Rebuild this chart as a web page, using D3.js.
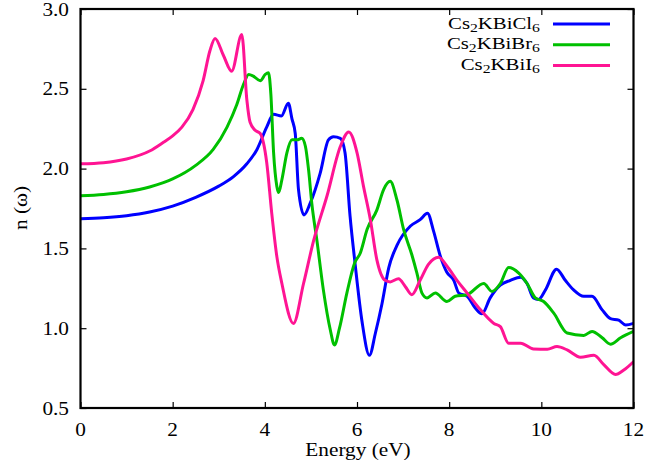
<!DOCTYPE html>
<html lang="en">
<head>
  <meta charset="UTF-8">
  <title>Refractive index</title>
  <script src="https://d3js.org/d3.v7.min.js"></script>
  <style>
    body { margin: 0; background: white; }
    svg { display: block; }
    text { font-family: "Liberation Serif", "Times New Roman", serif; fill: black; }
  </style>
</head>
<body>
<svg id="chart" width="648" height="469"></svg>
<script>
  // energy (eV) and n(omega)
  const clE = [0, 0.5, 1.0, 1.5, 2.0, 2.5, 3.0, 3.32, 3.61, 3.83, 4.04, 4.19, 4.36, 4.51, 4.59, 4.66, 4.73, 4.85, 4.98, 5.2, 5.38, 5.49, 5.64, 5.74, 5.85, 5.96, 6.11, 6.27, 6.4, 6.54, 6.69, 6.87, 7.16, 7.37, 7.53, 7.66, 7.81, 7.95, 8.1, 8.21, 8.39, 8.57, 8.71, 8.89, 9.11, 9.33, 9.55, 9.69, 9.83, 9.94, 10.09, 10.33, 10.52, 10.7, 10.92, 11.1, 11.32, 11.5, 11.68, 11.83, 12];
  const clN = [1.685, 1.692, 1.705, 1.728, 1.765, 1.82, 1.89, 1.95, 2.03, 2.12, 2.26, 2.34, 2.33, 2.41, 2.31, 2.22, 1.87, 1.71, 1.78, 1.97, 2.18, 2.20, 2.19, 2.10, 1.70, 1.40, 1.04, 0.83, 0.97, 1.15, 1.38, 1.52, 1.64, 1.68, 1.72, 1.61, 1.45, 1.35, 1.30, 1.22, 1.20, 1.125, 1.09, 1.19, 1.27, 1.30, 1.32, 1.28, 1.19, 1.18, 1.24, 1.37, 1.30, 1.24, 1.20, 1.20, 1.115, 1.06, 1.05, 1.02, 1.03];

  const brE = [0, 0.5, 1.0, 1.5, 2.0, 2.5, 2.88, 3.18, 3.39, 3.54, 3.65, 3.75, 3.9, 4.01, 4.08, 4.13, 4.19, 4.26, 4.3, 4.37, 4.48, 4.59, 4.7, 4.8, 4.88, 4.95, 5.02, 5.13, 5.27, 5.42, 5.51, 5.62, 5.78, 5.95, 6.07, 6.22, 6.43, 6.58, 6.72, 6.87, 7.01, 7.19, 7.3, 7.41, 7.52, 7.7, 7.95, 8.13, 8.39, 8.75, 8.93, 9.11, 9.29, 9.51, 9.69, 9.87, 10.05, 10.27, 10.56, 10.92, 11.1, 11.32, 11.5, 11.72, 12];
  const brN = [1.83, 1.838, 1.855, 1.885, 1.935, 2.02, 2.12, 2.26, 2.40, 2.53, 2.59, 2.58, 2.55, 2.59, 2.60, 2.47, 2.10, 1.89, 1.85, 1.93, 2.10, 2.18, 2.18, 2.19, 2.14, 1.99, 1.78, 1.55, 1.24, 0.99, 0.895, 1.00, 1.22, 1.41, 1.47, 1.62, 1.74, 1.87, 1.92, 1.80, 1.62, 1.46, 1.345, 1.22, 1.19, 1.22, 1.167, 1.20, 1.21, 1.28, 1.23, 1.28, 1.38, 1.345, 1.28, 1.19, 1.167, 1.094, 0.97, 0.955, 0.98, 0.94, 0.90, 0.94, 0.98];

  const iE = [0, 0.5, 1.0, 1.5, 1.8, 2.0, 2.2, 2.44, 2.66, 2.81, 2.92, 3.1, 3.28, 3.5, 3.61, 3.68, 3.79, 3.9, 4.04, 4.15, 4.26, 4.37, 4.62, 4.84, 5.06, 5.35, 5.64, 5.82, 6.0, 6.14, 6.29, 6.43, 6.61, 6.72, 6.9, 7.05, 7.19, 7.37, 7.55, 7.77, 7.95, 8.17, 8.39, 8.68, 8.97, 9.11, 9.29, 9.55, 9.83, 10.13, 10.34, 10.56, 10.85, 11.14, 11.36, 11.61, 11.79, 12];
  const iN = [2.03, 2.037, 2.06, 2.11, 2.165, 2.205, 2.26, 2.37, 2.55, 2.74, 2.815, 2.71, 2.61, 2.84, 2.43, 2.29, 2.24, 2.22, 2.04, 1.72, 1.45, 1.28, 1.03, 1.28, 1.55, 1.83, 2.14, 2.23, 2.10, 1.89, 1.68, 1.43, 1.30, 1.29, 1.31, 1.26, 1.21, 1.30, 1.40, 1.445, 1.39, 1.30, 1.22, 1.115, 1.03, 1.01, 0.906, 0.906, 0.87, 0.868, 0.885, 0.864, 0.818, 0.83, 0.77, 0.71, 0.738, 0.79];

  const xTicks = [0, 2, 4, 6, 8, 10, 12];
  const yTicks = [0.5, 1.0, 1.5, 2.0, 2.5, 3.0];

  const series = [
    { name: ["Cs", "2", "KBiCl", "6"], e: clE, n: clN, color: "#0000ff" },
    { name: ["Cs", "2", "KBiBr", "6"], e: brE, n: brN, color: "#00c000" },
    { name: ["Cs", "2", "KBiI", "6"], e: iE, n: iN, color: "#ff1493" }
  ];

  const svg = d3.select("#chart");
  const pLeft = 80.5, pRight = 633.5, pTop = 9, pBottom = 408;

  const x = d3.scaleLinear().domain([0, 12]).range([pLeft, pRight]);
  const y = d3.scaleLinear().domain([0.5, 3.0]).range([pBottom, pTop]);

  // text in the picture is a bit wider than tall, so stretch it sideways
  function label(px, py, anchor, txt, size, rot, sx) {
    const g = svg.append("g")
      .attr("transform", `translate(${px},${py}) rotate(${rot || 0}) scale(${sx || 1.12},1)`);
    return g.append("text")
      .attr("text-anchor", anchor)
      .attr("font-size", size + "px")
      .text(txt);
  }

  // lines
  svg.append("clipPath").attr("id", "clip")
    .append("rect").attr("x", pLeft).attr("y", pTop)
    .attr("width", pRight - pLeft).attr("height", pBottom - pTop);

  const line = d3.line()
    .x(d => x(d[0]))
    .y(d => y(d[1]))
    .curve(d3.curveMonotoneX);

  series.forEach(s => {
    svg.append("path")
      .datum(s.e.map((v, i) => [v, s.n[i]]))
      .attr("clip-path", "url(#clip)")
      .attr("fill", "none")
      .attr("stroke", s.color)
      .attr("stroke-width", 3)
      .attr("stroke-linejoin", "round")
      .attr("d", line);
  });

  // axes (ticks pointing inward, mirrored)
  svg.append("g").attr("transform", `translate(0,${pBottom})`)
    .call(d3.axisTop(x).tickValues(xTicks).tickSize(6).tickFormat(""))
    .call(g => g.select(".domain").remove());
  svg.append("g").attr("transform", `translate(0,${pTop})`)
    .call(d3.axisBottom(x).tickValues(xTicks).tickSize(6).tickFormat(""))
    .call(g => g.select(".domain").remove());
  svg.append("g").attr("transform", `translate(${pLeft},0)`)
    .call(d3.axisRight(y).tickValues(yTicks).tickSize(6).tickFormat(""))
    .call(g => g.select(".domain").remove());
  svg.append("g").attr("transform", `translate(${pRight},0)`)
    .call(d3.axisLeft(y).tickValues(yTicks).tickSize(6).tickFormat(""))
    .call(g => g.select(".domain").remove());
  svg.selectAll(".tick line").attr("stroke", "black").attr("stroke-width", 1.2);

  svg.append("rect")
    .attr("x", pLeft).attr("y", pTop)
    .attr("width", pRight - pLeft).attr("height", pBottom - pTop)
    .attr("fill", "none").attr("stroke", "black").attr("stroke-width", 2.2);

  // tick labels
  xTicks.forEach(t => label(x(t), 436, "middle", t, 19));
  yTicks.forEach(t => label(69, y(t) + 6.5, "end", t.toFixed(1), 19));

  // axis titles
  label(358, 456, "middle", "Energy (eV)", 19);
  label(27, 208, "middle", "n (\u03c9)", 19, -90);

  // legend
  series.forEach((s, i) => {
    const ly = 24 + i * 20.7;
    const t = label(540, ly + 4.5, "end", "", 16.5, 0, 1.26);
    t.append("tspan").text(s.name[0]);
    t.append("tspan").attr("font-size", "12.5px").attr("dy", 3).text(s.name[1]);
    t.append("tspan").attr("dy", -3).text(s.name[2]);
    t.append("tspan").attr("font-size", "12.5px").attr("dy", 3).text(s.name[3]);
    svg.append("line")
      .attr("x1", 553).attr("x2", 610)
      .attr("y1", ly).attr("y2", ly)
      .attr("stroke", s.color).attr("stroke-width", 3);
  });
</script>
</body>
</html>
